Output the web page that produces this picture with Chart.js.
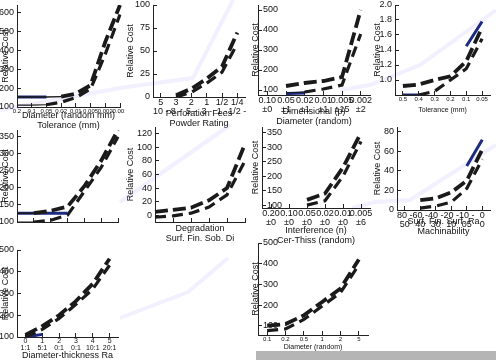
<!DOCTYPE html>
<html lang="en">
<head>
<meta charset="utf-8">
<title>Relative Cost panels</title>
<script src="https://cdn.jsdelivr.net/npm/chart.js"></script>
<style>
  body { margin: 0; width: 496px; height: 360px; overflow: hidden; background: #fff; position: relative; }
  canvas { position: absolute; }
  #strip { position: absolute; left: 256px; top: 351px; width: 240px; height: 9px; background: #b5b5b5; }
</style>
</head>
<body>
<canvas id="bg" width="496" height="360" style="left:0;top:0"></canvas>
<canvas id="p1"></canvas>
<canvas id="p2"></canvas>
<canvas id="p3"></canvas>
<canvas id="p4"></canvas>
<canvas id="p5"></canvas>
<canvas id="p6"></canvas>
<canvas id="p7"></canvas>
<canvas id="p8"></canvas>
<canvas id="p9"></canvas>
<canvas id="p10"></canvas>
<div id="strip"></div>
<script>
// values, panel by panel
const p1Labels = ['0.2','0.1','0.05','0.02','0.01','0.005','0.002','0.001'];
const p1Upper = [153,153,153,155,170,215,445,640];
const p1Lower = [110,110,112,125,150,195,380,590];
const p1Blue = [153,153,153,null,null,null,null,null];
const p1YTicks = [100,200,300,400,500,600];

const p2Labels = [['5','10 -'],['3','8 -'],['2','5 -'],['1','3 -'],['1/2','1 -'],['1/4','1/2 -']];
const p2Upper = [null,2,9,20,33,70];
const p2Lower = [null,0,5,15,27,58];
const p2YTicks = [0,25,50,75,100];

const p3Labels = [['0.10','±0'],['0.05','±1'],['0.02','±1'],['0.01','±1'],['0.005','±15'],['0.002','±2']];
const p3Upper = [null,120,135,145,165,500];
const p3Lower = [null,85,90,105,125,380];
const p3Blue = [null,82,85,null,null,null];
const p3YTicks = [100,200,300,400,500];

const p4Labels = ['0.5','0.4','0.3','0.2','0.1','0.05'];
const p4Upper = [0.92,0.94,1.0,1.05,1.25,1.7];
const p4Lower = [0.8,0.8,0.85,1.0,1.15,1.55];
const p4Blue = [0.8,0.8,null,null,1.45,1.78];
const p4YTicks = [1.0,1.2,1.4,1.6,1.8,2.0];

const p5Labels = ['1','2','3','4','5','6','7'];
const p5Upper = [126,126,133,145,205,280,370];
const p5Lower = [100,100,105,120,190,260,350];
const p5Blue = [126,126,126,126,null,null,null];
const p5YTicks = [100,150,200,250,300,350];

const p6Labels = ['1','2','3','4','5','6'];
const p6Upper = [5,8,11,22,40,105];
const p6Lower = [-3,-1,3,12,30,80];
const p6YTicks = [0,20,40,60,80,100,120];

const p7Labels = [['0.20','±0'],['0.10','±0'],['0.05','±0'],['0.02','±0'],['0.01','±0'],['0.005','±6']];
const p7Upper = [null,null,118,140,230,350];
const p7Lower = [null,null,100,115,200,320];
const p7YTicks = [100,150,200,250,300,350];

const p8Labels = [['80 -','50'],['60 -','40'],['40 -','30'],['20 -','10'],['10 -','05'],['0','0']];
const p8Upper = [null,10,12,18,30,62];
const p8Lower = [null,2,4,8,22,52];
const p8Blue = [null,null,null,null,45,72];
const p8YTicks = [0,20,40,60,80];

const p9Labels = [['0','1:1'],['1','5:1'],['2','0:1'],['3','0:1'],['4','10:1'],['5','20:1']];
const p9Upper = [110,150,200,265,345,460];
const p9Lower = [100,135,185,250,320,430];
const p9Blue = [100,112,null,null,null,null];
const p9YTicks = [100,200,300,400,500];

const p10Labels = ['0.1','0.2','0.5','1','2','5'];
const p10Upper = [100,108,150,215,280,420];
const p10Lower = [76,84,130,195,260,395];
const p10YTicks = [100,200,300,400,500];

// faint lavender trace behind the panels (page units)
const glowX1 = [0,120,193,233], glowY1 = [110,88,78,0];
const glowX2 = [340,370,420,496], glowY2 = [90,85,65,10];
const glowX3 = [120,230], glowY3 = [202,125];
const glowX4 = [352,375,410,496], glowY4 = [208,202,200,145];
const glowX5 = [120,188,228], glowY5 = [318,292,258];

const FONT = "'Liberation Sans', Arial, sans-serif";

// box: canvas [left, top, width, height]; area: plot [left, top, right, bottom]
const layout = {
  p1: { box: [0,0,125,130], area: [17,5,120,107] },
  p2: { box: [125,0,125,128], area: [153,5,245,97] },
  p3: { box: [250,0,122,126], area: [258,5,370,95] },
  p4: { box: [372,0,124,114], area: [395,5,490,95] },
  p5: { box: [0,125,125,101], area: [17,130,118,222] },
  p6: { box: [125,122,125,121], area: [155,127,245,222] },
  p7: { box: [250,122,122,123], area: [262,127,370,208] },
  p8: { box: [372,122,124,114], area: [397,127,490,210] },
  p9: { box: [0,245,125,115], area: [17,250,118,337] },
  p10: { box: [250,238,122,113], area: [258,243,368,335] }
};

function build(id, spec) {
  const L = layout[id];
  const [bx, by, bw, bh] = L.box;
  const [al, at, ar, ab] = L.area;
  const cv = document.getElementById(id);
  cv.width = bw; cv.height = bh;
  cv.style.left = bx + 'px'; cv.style.top = by + 'px';
  const yW = al - bx, xH = by + bh - ab;
  const range = spec.yMax - spec.yMin;
  const flat = c => Math.abs(c.p1.parsed.y - c.p0.parsed.y) < range * 0.012;
  const sets = [
    { data: spec.lower, borderColor: '#1a1a1a', borderWidth: 3,
      segment: { borderWidth: c => flat(c) ? 1.2 : 3.2, borderDash: c => flat(c) ? [] : [11, 6] } },
    { data: spec.upper, borderColor: '#1a1a1a', borderWidth: 4,
      segment: { borderWidth: c => flat(c) ? 1.4 : 3.8, borderDash: c => flat(c) ? [] : [13, 5] } }
  ];
  if (spec.blue) sets.push({ data: spec.blue, borderColor: '#1c2a80', borderWidth: 3 });

  new Chart(cv, {
    type: 'line',
    data: {
      labels: spec.labels,
      datasets: sets.map(d => Object.assign({ pointRadius: 0, tension: 0, fill: false, spanGaps: false }, d))
    },
    options: {
      responsive: false, animation: false, devicePixelRatio: 1,
      layout: { padding: { left: 0, top: at - by, right: bx + bw - ar, bottom: 0 } },
      plugins: { legend: { display: false }, tooltip: { enabled: false } },
      scales: {
        x: {
          type: 'category', offset: spec.offset,
          grid: { drawOnChartArea: false, tickLength: -4, color: '#222' },
          border: { color: '#222' },
          ticks: { display: spec.showX !== false, autoSkip: false, maxRotation: 0, minRotation: 0, padding: 5,
                   color: '#111', font: { family: FONT, size: spec.xTickSize || 9, lineHeight: 1 } },
          title: { display: !!spec.xTitle, text: spec.xTitle, color: '#111', padding: 0,
                   font: { family: FONT, size: spec.xTitleSize || 9, lineHeight: 1.1 } },
          afterFit: a => { a.height = xH; a.paddingLeft = 0; a.paddingRight = 0; }
        },
        y: {
          min: spec.yMin, max: spec.yMax,
          afterBuildTicks: a => { a.ticks = spec.yTicks.map(v => ({ value: v })); },
          grid: { drawOnChartArea: false, tickLength: -4, color: '#222' },
          border: { color: '#222', dash: spec.yDash || [] },
          ticks: { mirror: !!spec.mirror, padding: spec.mirror ? 5 : 7, color: '#111', font: { family: FONT, size: 9 } },
          title: { display: true, text: 'Relative Cost', color: '#111', padding: 0,
                   font: { family: FONT, size: 9 } },
          afterFit: a => { a.width = yW; a.paddingTop = 0; a.paddingBottom = 0; }
        }
      }
    }
  });
}

build('p1', { labels: p1Labels, upper: p1Upper, lower: p1Lower, blue: p1Blue, yMin: 100, yMax: 640, yTicks: p1YTicks,
  offset: false, xTickSize: 6, xTitle: ['Diameter (random mm)', 'Tolerance (mm)'] });
build('p2', { labels: p2Labels, upper: p2Upper, lower: p2Lower, yMin: 0, yMax: 100, yTicks: p2YTicks,
  offset: true, yDash: [5, 4], xTitle: ['Perforation Fees', 'Powder Rating'] });
build('p3', { labels: p3Labels, upper: p3Upper, lower: p3Lower, blue: p3Blue, yMin: 75, yMax: 525, yTicks: p3YTicks,
  offset: true, mirror: true, xTitle: ['Dimensional (p)', 'Diameter (random)'] });
build('p4', { labels: p4Labels, upper: p4Upper, lower: p4Lower, blue: p4Blue, yMin: 0.8, yMax: 2.0, yTicks: p4YTicks,
  offset: true, xTickSize: 6, xTitleSize: 7, xTitle: ['Tolerance (mm)'] });
build('p5', { labels: p5Labels, upper: p5Upper, lower: p5Lower, blue: p5Blue, yMin: 100, yMax: 370, yTicks: p5YTicks,
  offset: false, showX: false });
build('p6', { labels: p6Labels, upper: p6Upper, lower: p6Lower, yMin: -10, yMax: 130, yTicks: p6YTicks,
  offset: false, showX: false, xTitle: ['Degradation', 'Surf. Fin. Sob. Di'] });
build('p7', { labels: p7Labels, upper: p7Upper, lower: p7Lower, yMin: 90, yMax: 370, yTicks: p7YTicks,
  offset: true, mirror: true, xTitle: ['Interference (n)', 'Cer-Thiss (random)'] });
build('p8', { labels: p8Labels, upper: p8Upper, lower: p8Lower, blue: p8Blue, yMin: 0, yMax: 85, yTicks: p8YTicks,
  offset: true, xTitle: ['Surf. Fin. Surf. Ra', 'Machinability'] });
build('p9', { labels: p9Labels, upper: p9Upper, lower: p9Lower, blue: p9Blue, yMin: 100, yMax: 500, yTicks: p9YTicks,
  offset: true, xTickSize: 7, xTitle: ['Diameter-thickness Ra'] });
build('p10', { labels: p10Labels, upper: p10Upper, lower: p10Lower, yMin: 55, yMax: 500, yTicks: p10YTicks,
  offset: true, mirror: true, xTickSize: 6, xTitleSize: 7, xTitle: ['Diameter (random)'] });

// background trace
const zip = (xs, ys) => xs.map((x, i) => ({ x: x, y: ys[i] }));
new Chart(document.getElementById('bg'), {
  type: 'scatter',
  data: {
    datasets: [[glowX1, glowY1], [glowX2, glowY2], [glowX3, glowY3], [glowX4, glowY4], [glowX5, glowY5]].map(p => ({
      data: zip(p[0], p[1]), showLine: true, pointRadius: 0,
      borderColor: 'rgba(232,226,255,0.55)', borderWidth: 4
    }))
  },
  options: {
    responsive: false, animation: false, devicePixelRatio: 1,
    layout: { padding: 0 },
    plugins: { legend: { display: false }, tooltip: { enabled: false } },
    scales: {
      x: { type: 'linear', min: 0, max: 496, display: false },
      y: { type: 'linear', min: 0, max: 360, reverse: true, display: false }
    }
  }
});
</script>
</body>
</html>
